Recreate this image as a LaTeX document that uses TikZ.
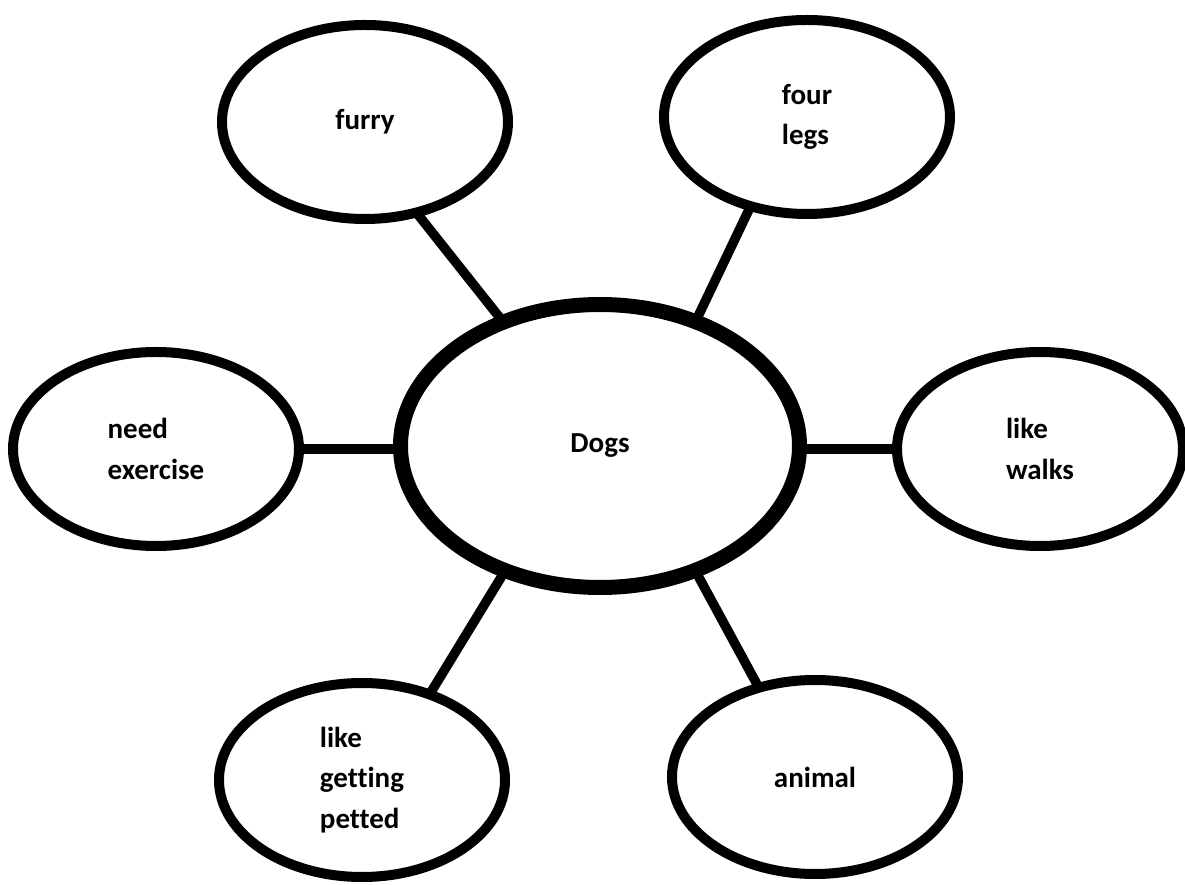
\documentclass[tikz,border=0pt]{standalone}
\usepackage{fontspec}
\setmainfont{Carlito}[Ligatures=NoCommon]
\usetikzlibrary{shapes.geometric, backgrounds}

\begin{document}
\begin{tikzpicture}[
  hub/.style={draw, fill=white, ellipse, line width=0.3cm, minimum width=7.98cm, minimum height=5.66cm, inner sep=0pt, font=\bfseries\fontsize{16.5}{23}\selectfont},
  bubble/.style={draw, fill=white, ellipse, line width=0.2cm, minimum width=5.72cm, minimum height=3.88cm, inner sep=0pt, align=left, font=\bfseries\fontsize{16.5}{23}\selectfont},
  link/.style={line width=0.19cm, shorten <=-0.15cm, shorten >=-0.15cm}
]
  \useasboundingbox (-12, -8.78) rectangle (11.7, 8.92);

  % centre idea
  \node[hub] (dogs) at (0, 0) {Dogs};

  % surrounding ideas
  \node[bubble] (furry) at (-4.7, 6.48) {furry};
  \node[bubble] (legs) at (4.14, 6.58) {four\\legs};
  \node[bubble] (exercise) at (-8.88, -0.06) {need\\exercise};
  \node[bubble] (walks) at (8.8, -0.06) {like\\walks};
  \node[bubble] (petted) at (-4.76, -6.68) {like\\getting\\petted};
  \node[bubble] (animal) at (4.3, -6.62) {animal};

  % spokes
  \begin{scope}[on background layer]
    \fill[white] (-12, -8.78) rectangle (11.7, 8.92);
    \draw[link] (furry.-60) -- (dogs.128);
    \draw[link] (legs.238) -- (dogs.53);
    \draw[link] (exercise) -- (exercise -| dogs);
    \draw[link] (walks -| dogs) -- (walks);
    \draw[link] (petted.52) -- (dogs.233);
    \draw[link] (animal.122) -- (dogs.-53);
  \end{scope}
\end{tikzpicture}
\end{document}
